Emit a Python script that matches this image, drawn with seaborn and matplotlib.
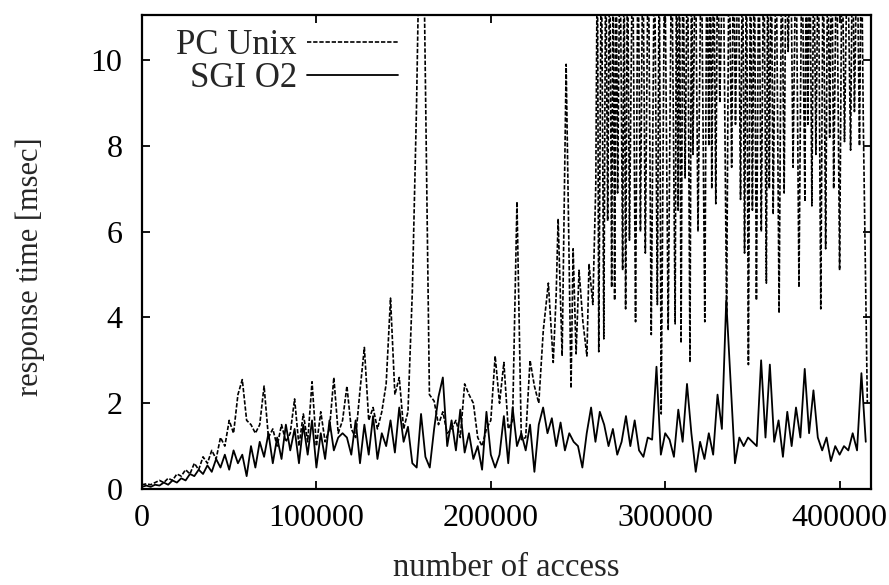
import numpy as np
import pandas as pd
import matplotlib
matplotlib.use("Agg")
import matplotlib.pyplot as plt
import seaborn as sns

# ---------------- data (x in thousands of accesses, y in msec) ----------------
PC_A_X = [0, 2.5, 5, 7.5, 10, 12.5, 15, 17.5, 20, 22.5, 25, 27.5, 30, 32.5, 35, 37.5,
          40, 42.5, 45, 47.5, 50, 52.5, 55, 57.5, 60, 62.5, 65, 67.5, 70, 72.5, 75, 77.5,
          80, 82.5, 85, 87.5, 90, 92.5, 95, 97.5, 100, 102.5, 105, 107.5, 110, 112.5,
          115, 117.5, 120, 122.5, 125, 127.5, 130, 132.5, 135, 137.5, 140, 142.5, 145,
          147.5, 150, 152.5, 155]
PC_A_Y = [0.1, 0.12, 0.1, 0.15, 0.2, 0.15, 0.25, 0.2, 0.35, 0.3,
          0.45, 0.35, 0.6, 0.45, 0.75, 0.6, 0.9, 0.7, 1.2, 1.0,
          1.6, 1.3, 2.2, 2.55, 1.6, 1.5, 1.3, 1.5, 2.4, 1.2,
          1.4, 1.0, 1.5, 1.1, 1.3, 2.1, 1.0, 1.75, 1.1, 2.5,
          1.0, 1.8, 1.1, 1.4, 2.6, 1.3, 1.6, 2.4, 1.4, 1.2,
          2.3, 3.3, 1.6, 1.9, 1.4, 1.8, 2.45, 4.45, 2.2, 2.6,
          1.4, 1.8, 4.6]
PC_B_X = [157.4, 159.1, 161.4, 164.8,
          167.5, 170, 172.5, 175, 177.5, 180, 182.5, 185, 187.5, 190, 192.5, 195, 197.5,
          200, 202.5, 205, 207.5, 210, 212.5, 215, 217.5, 220, 222.5, 225, 227.5,
          230.1, 233.0, 235.8, 237.5, 238.6, 240.9, 243.2, 246.0, 247.2, 248.9, 250.6,
          252.8, 255.1, 256.3, 258.5, 260.2]
PC_B_Y = [8.9, 13, 13, 2.2,
          2.05, 1.5, 1.8, 1.3, 1.4, 1.6, 1.2, 2.45, 2.2, 2.0, 1.2, 1.0, 1.4,
          1.6, 3.1, 2.0, 2.95, 1.4, 1.6, 6.7, 1.15, 1.2, 3.0, 2.4, 2.0,
          3.7, 4.8, 2.95, 4.55, 6.3, 3.1, 9.9, 2.35, 5.6, 3.15, 5.1,
          3.9, 3.1, 5.25, 4.3, 7.1]
PC_C_X = [261.1, 261.9, 263.4, 264.8, 265.9, 267.0, 268.2, 269.3, 270.2, 271.0,
          271.9, 272.7, 274.1, 275.6, 276.4, 277.3, 278.4, 279.5, 281.3, 283.0,
          284.4, 285.8, 287.2, 288.6, 290.3, 292.0, 293.8, 295.5, 296.6, 297.7,
          299.7, 301.7, 303.7, 305.7, 306.5, 307.4, 308.2, 309.1, 310.2, 311.4,
          312.8, 314.2, 315.1, 315.9, 317.3, 318.8, 320.7, 322.7, 323.9, 325.0,
          325.9, 326.7, 327.8, 329.0, 330.1, 331.3, 333.2, 335.2, 336.6, 338.1,
          339.2, 340.3, 341.8, 343.2, 344.3, 345.5, 346.6, 347.7, 348.9, 350.0,
          351.1, 352.3, 353.7, 355.1, 356.5, 358.0, 358.8, 359.7, 360.8, 361.9,
          363.6, 365.3, 366.8, 368.2, 369.3, 370.5, 371.9, 373.3, 375.0, 376.7,
          378.4, 380.1, 380.9, 381.8, 382.9, 384.1, 385.2, 386.4, 387.8, 389.2,
          390.6, 392.0, 393.2, 394.3, 395.5, 396.6, 398.3, 400.0, 401.4, 402.8,
          404.5, 406.3, 407.4, 408.5, 410.0, 411.4, 412.5, 413.6, 415.9]
PC_C_Y = [13, 3.2, 13, 3.5, 13, 6.25, 13, 4.7, 13, 4.4,
          13, 6.9, 13, 5.1, 13, 4.2, 13, 5.8, 13, 3.9,
          13, 6.0, 13, 5.5, 13, 3.6, 13, 4.3, 13, 1.75,
          13, 3.7, 13, 3.85, 13, 6.5, 13, 3.4, 13, 7.25,
          13, 2.95, 13, 7.8, 13, 6.0, 13, 3.9, 13, 8.0,
          13, 7.0, 13, 6.65, 13, 9.0, 13, 4.1, 13, 7.5,
          13, 8.5, 13, 6.75, 13, 5.5, 13, 2.9, 13, 6.5,
          13, 4.4, 13, 6.0, 13, 4.8, 13, 7.0, 13, 6.4,
          13, 4.1, 13, 6.9, 13, 10.2, 13, 7.5, 13, 4.7,
          13, 6.7, 13, 8.5, 13, 6.6, 13, 7.8, 13, 4.2,
          13, 5.6, 13, 8.2, 13, 7.0, 13, 5.1, 13, 8.1,
          13, 7.9, 13, 8.8, 13, 8.0, 13, 8.5, 2.0]

SGI_Y = [0.05, 0.08, 0.05, 0.1, 0.08, 0.15, 0.1, 0.2, 0.15, 0.25,
         0.2, 0.35, 0.3, 0.45, 0.35, 0.55, 0.4, 0.7, 0.5, 0.8,
         0.45, 0.9, 0.6, 0.8, 0.3, 1.0, 0.5, 1.1, 0.75, 1.3,
         0.6, 1.2, 0.7, 1.5, 0.9, 1.4, 0.6, 1.5, 0.8, 1.6,
         0.5, 1.3, 0.7, 1.6, 0.9, 1.2, 1.3, 1.2, 0.8, 1.6,
         0.6, 1.5, 0.8, 1.7, 0.7, 1.3, 1.0, 1.6, 0.85, 1.9,
         1.1, 1.45, 0.6, 0.5, 1.75, 0.75, 0.5, 1.4, 2.15, 2.6,
         1.0, 1.6, 0.9, 1.85, 0.85, 1.3, 0.7, 1.0, 0.45, 1.8,
         0.8, 0.5, 0.8, 1.7, 0.6, 1.9, 1.0, 1.3, 0.9, 1.5,
         0.4, 1.5, 1.9, 1.3, 1.65, 1.0, 1.55, 0.9, 1.3, 1.1,
         1.0, 0.5, 1.3, 1.9, 1.1, 1.8, 1.5, 1.0, 1.4, 0.8,
         1.1, 1.7, 1.0, 1.6, 0.9, 0.75, 1.2, 1.15, 2.85, 0.8,
         1.3, 1.15, 0.75, 1.85, 1.1, 2.45, 1.3, 0.4, 1.1, 0.7,
         1.3, 0.8, 2.2, 1.4, 4.4, 2.5, 0.6, 1.2, 1.0, 1.2,
         1.1, 1.0, 3.0, 1.2, 2.9, 1.1, 1.6, 0.75, 1.8, 1.0,
         1.9, 1.2, 2.8, 1.3, 2.3, 1.2, 0.9, 1.2, 0.65, 1.0,
         0.8, 1.0, 0.9, 1.3, 0.9, 2.7, 1.1]
SGI_STEP = 2500  # sampling interval of the SGI trace (accesses)

X_TICKS = [0, 100000, 200000, 300000, 400000]
X_TICKLABELS = ["0", "100000", "200000", "300000", "400000"]
Y_TICKS = [0, 2, 4, 6, 8, 10]
Y_TICKLABELS = ["0", "2", "4", "6", "8", "10"]
LABELS = ["PC Unix", "SGI O2"]

# ---------------- build frames ----------------
pc_x = np.array(PC_A_X + PC_B_X + PC_C_X) * 1000
pc_y = np.array(PC_A_Y + PC_B_Y + PC_C_Y)
sgi_y = np.array(SGI_Y)
sgi_x = np.arange(len(sgi_y)) * SGI_STEP

pc_df = pd.DataFrame({"access": pc_x, "time": pc_y})
sgi_df = pd.DataFrame({"access": sgi_x, "time": sgi_y})

sns.set_style("ticks")
plt.rcParams["font.family"] = ["Liberation Serif", "DejaVu Serif"]

fig = plt.figure(figsize=(8.89, 5.85), dpi=100)
ax = fig.add_axes([142 / 889, 1 - 489 / 585, (871 - 142) / 889, (489 - 15) / 585])

sns.lineplot(data=pc_df, x="access", y="time", ax=ax, color="black",
             linewidth=1.2, estimator=None, sort=False, label=LABELS[0])
ax.lines[-1].set_dashes((2.6, 1.1))
sns.lineplot(data=sgi_df, x="access", y="time", ax=ax, color="black",
             linewidth=1.3, estimator=None, sort=False, label=LABELS[1])

ax.set_xlim(0, 418000)
ax.set_ylim(0, 11.05)
ax.set_xticks(X_TICKS)
ax.set_xticklabels(X_TICKLABELS)
ax.set_yticks(Y_TICKS)
ax.set_yticklabels(Y_TICKLABELS)
ax.tick_params(axis="both", direction="in", length=6, width=1.3,
               top=True, right=True, labelsize=23, colors="black")
ax.tick_params(axis="x", pad=11)
ax.tick_params(axis="y", pad=14)
for s in ax.spines.values():
    s.set_linewidth(1.6)
    s.set_color("black")

ax.set_xlabel("number of access", fontsize=23.5, labelpad=14)
ax.set_ylabel("response time [msec]", fontsize=22)
ax.yaxis.set_label_coords(-0.133, 0.468)

leg = ax.legend(loc="upper left", bbox_to_anchor=(0.028, 1.0), frameon=False,
                fontsize=25, markerfirst=False, handlelength=2.6,
                handletextpad=0.3, labelspacing=0.0, alignment="right",
                borderaxespad=0.0)

fig.savefig("out.png", dpi=100, facecolor="white")
